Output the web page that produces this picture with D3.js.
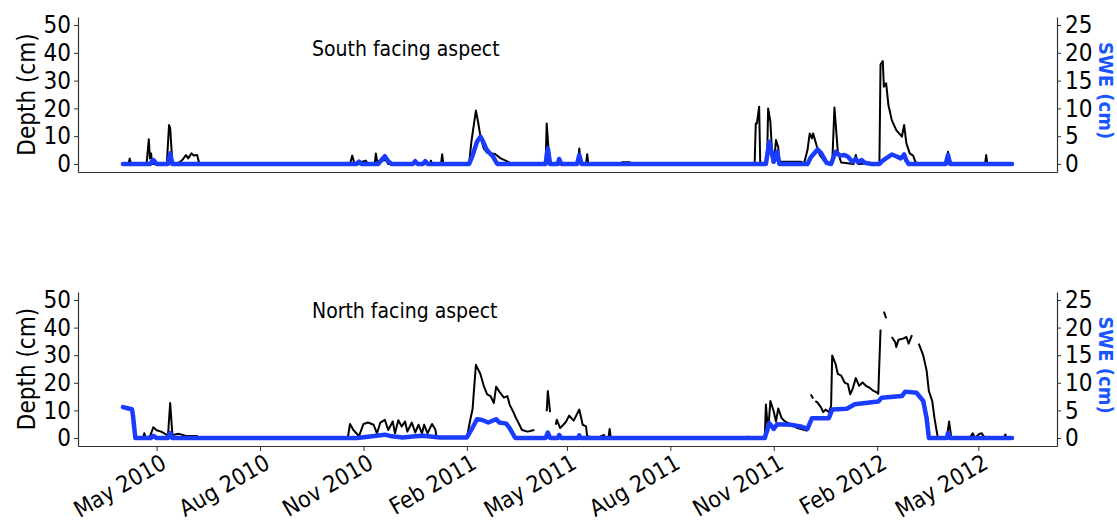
<!DOCTYPE html>
<html>
<head>
<meta charset="utf-8">
<script src="https://cdn.jsdelivr.net/npm/d3@7"></script>
<style>
  body { margin: 0; background: #fff; }
  svg { display: block; font-family: "DejaVu Sans Condensed", "DejaVu Sans", sans-serif; font-stretch: condensed; }
</style>
</head>
<body>
<svg id="chart" width="1117" height="523"></svg>
<script>
// depth (cm) and SWE (cm), null = gap in the record
var southDepth = [
  ["2010-04-01",0],["2010-04-06",0],["2010-04-07",2],["2010-04-08",0],["2010-04-22",0],["2010-04-24",8.9],
  ["2010-04-25",2],["2010-04-26",3.8],["2010-04-27",0],["2010-05-10",0],["2010-05-12",14],["2010-05-13",13],
  ["2010-05-15",0],["2010-05-21",0.5],["2010-05-24",1.5],["2010-05-27",3.2],["2010-05-29",2],["2010-06-01",3.8],
  ["2010-06-03",3],["2010-06-06",3.2],["2010-06-08",0],["2010-10-20",0],["2010-10-22",3],["2010-10-24",0],
  ["2010-11-03",1.2],["2010-11-05",0],["2010-11-11",0],["2010-11-12",3.8],["2010-11-13",1],["2010-11-21",1.4],
  ["2010-11-23",0],["2010-12-30",0],["2010-12-31",1.2],["2011-01-01",0],["2011-01-09",0],["2011-01-10",3.5],
  ["2011-01-11",0],["2011-02-03",0.3],["2011-02-05",8],["2011-02-09",19.2],["2011-02-11",15],["2011-02-13",10],
  ["2011-02-16",5.6],["2011-02-19",4],["2011-02-26",3.6],["2011-03-03",2],["2011-03-07",1.3],["2011-03-11",0.5],
  ["2011-03-14",0],["2011-04-12",0],["2011-04-13",14.6],["2011-04-15",3],["2011-04-16",0],["2011-04-22",0],
  ["2011-04-23",1],["2011-04-24",0],["2011-05-11",0],["2011-05-12",5.6],["2011-05-13",0],["2011-05-18",0],
  ["2011-05-19",3.5],["2011-05-20",0],["2011-06-18",0],["2011-06-19",0.6],["2011-06-26",0.6],["2011-06-27",0],
  ["2011-10-15",0],["2011-10-16",14.6],["2011-10-17",14.6],["2011-10-19",20.6],["2011-10-20",0],["2011-10-26",0],
  ["2011-10-27",20],["2011-10-29",15.2],["2011-10-31",0.5],["2011-11-02",4],["2011-11-03",8.6],["2011-11-05",6],
  ["2011-11-06",0.8],["2011-11-25",0.8],["2011-11-28",0.2],["2011-12-01",5],["2011-12-03",11],["2011-12-05",9.2],
  ["2011-12-06",11],["2011-12-09",6.8],["2011-12-12",3.2],["2011-12-16",1],["2011-12-19",0.2],["2011-12-23",0],
  ["2011-12-25",20.3],["2011-12-28",4.4],["2011-12-31",0.5],["2012-01-11",0],["2012-01-13",3.2],["2012-01-15",0],
  ["2012-02-03",0.3],["2012-02-04",35.8],["2012-02-06",37],["2012-02-07",27.8],["2012-02-09",29],["2012-02-11",21.2],
  ["2012-02-14",15.8],["2012-02-18",12.2],["2012-02-23",9.8],["2012-02-25",14],["2012-02-27",7.4],["2012-03-01",3.8],
  ["2012-03-04",3],["2012-03-06",0.8],["2012-03-08",0],["2012-04-03",0],["2012-04-04",4.4],["2012-04-06",0],
  ["2012-05-07",0],["2012-05-08",3.2],["2012-05-09",0],["2012-05-31",0]
];
var southSwe = [
  ["2010-04-01",0],["2010-04-25",0],["2010-04-28",0.7],["2010-05-01",0],["2010-05-11",0],["2010-05-13",1.9],
  ["2010-05-15",0],["2010-10-26",0],["2010-10-28",0.4],["2010-10-30",0],["2010-11-14",0],["2010-11-20",1.4],
  ["2010-11-23",0.5],["2010-11-26",0],["2010-12-15",0],["2010-12-17",0.5],["2010-12-19",0],["2010-12-24",0],
  ["2010-12-26",0.5],["2010-12-28",0],["2011-02-03",0],["2011-02-06",1.5],["2011-02-10",4],["2011-02-13",4.9],
  ["2011-02-15",4.2],["2011-02-18",2.8],["2011-02-20",2.2],["2011-02-24",1.4],["2011-02-26",0.7],["2011-02-28",0],
  ["2011-04-12",0],["2011-04-14",2.8],["2011-04-16",0],["2011-04-23",0],["2011-04-24",0.9],["2011-04-26",0],
  ["2011-05-10",0],["2011-05-12",1.6],["2011-05-14",0],["2011-10-25",0],["2011-10-28",4],["2011-11-01",0.4],
  ["2011-11-04",2.2],["2011-11-06",0],["2011-12-01",0],["2011-12-04",1.2],["2011-12-10",2.6],["2011-12-13",2],
  ["2011-12-18",0.2],["2011-12-22",0],["2011-12-26",2.2],["2011-12-30",1.5],["2012-01-03",1.6],["2012-01-06",1.3],
  ["2012-01-10",0.4],["2012-01-13",0.9],["2012-01-15",0.3],["2012-01-18",0.7],["2012-01-21",0.2],["2012-01-27",0],
  ["2012-02-03",0],["2012-02-06",0.6],["2012-02-14",1.7],["2012-02-19",1.3],["2012-02-22",1],["2012-02-25",1.7],
  ["2012-02-27",0.6],["2012-02-29",0],["2012-04-02",0],["2012-04-04",1.6],["2012-04-06",0],["2012-05-31",0]
];
var northDepth = [
  ["2010-04-19",0],["2010-04-20",1.7],["2010-04-21",0.3],["2010-04-25",0.5],["2010-04-28",3.9],["2010-05-01",2.8],
  ["2010-05-05",2.3],["2010-05-10",1.1],["2010-05-11",0.5],["2010-05-13",12.7],["2010-05-15",1.1],["2010-05-21",1.5],
  ["2010-05-27",0.7],["2010-06-06",0.7],["2010-06-07",0],["2010-10-18",0],["2010-10-20",5.1],["2010-10-23",2.9],
  ["2010-10-28",0.7],["2010-11-01",5.1],["2010-11-05",5.6],["2010-11-10",4.8],["2010-11-13",1.7],["2010-11-16",5.6],
  ["2010-11-20",6.6],["2010-11-23",2.9],["2010-11-27",6],["2010-11-29",1.7],["2010-12-02",6.4],["2010-12-05",4.2],
  ["2010-12-08",6],["2010-12-10",2.3],["2010-12-14",5.6],["2010-12-17",2],["2010-12-20",4.8],["2010-12-23",1.7],
  ["2010-12-25",4.8],["2010-12-28",1.7],["2011-01-01",5.1],["2011-01-04",3],["2011-01-05",0],["2011-02-01",0.3],
  ["2011-02-04",6.6],["2011-02-06",10.3],["2011-02-09",26.5],["2011-02-13",23.2],["2011-02-16",18.9],["2011-02-19",15.8],
  ["2011-02-22",15.2],["2011-02-25",12.7],["2011-02-27",18.6],["2011-03-02",16.7],["2011-03-06",14.6],["2011-03-09",15.2],
  ["2011-03-11",12.1],["2011-03-14",9.7],["2011-03-16",7.8],["2011-03-19",5.4],["2011-03-22",2.9],["2011-03-27",2.3],
  ["2011-04-02",2.9],["2011-04-07",null],["2011-04-13",9.7],["2011-04-14",17],["2011-04-16",9.4],["2011-04-18",null],
  ["2011-04-21",4.8],["2011-04-22",6.6],["2011-04-25",3.6],["2011-04-30",5.8],["2011-05-03",8.1],["2011-05-07",6.3],
  ["2011-05-12",10.3],["2011-05-15",4.8],["2011-05-18",4.2],["2011-05-19",0.5],["2011-05-21",0.5],["2011-05-28",0],
  ["2011-06-03",1.1],["2011-06-04",0],["2011-06-07",0],["2011-06-08",3.3],["2011-06-09",0],["2011-10-08",0],
  ["2011-10-09",0.5],["2011-10-10",0],["2011-10-24",0],["2011-10-25",12.1],["2011-10-27",2.3],["2011-10-29",13.4],
  ["2011-11-01",9.6],["2011-11-03",6],["2011-11-05",10.7],["2011-11-08",7.2],["2011-11-11",6],["2011-11-14",5.4],
  ["2011-11-22",3.6],["2011-12-01",2.6],["2011-12-02",null],["2011-12-04",15.8],["2011-12-06",14.3],["2011-12-07",null],
  ["2011-12-08",13.4],["2011-12-10",12.8],["2011-12-13",11.1],["2011-12-15",9.4],["2011-12-17",10.3],["2011-12-20",9.4],
  ["2011-12-22",11.5],["2011-12-23",29.9],["2011-12-26",26.8],["2011-12-28",23.2],["2011-12-31",22.6],["2012-01-03",20.1],
  ["2012-01-06",19.5],["2012-01-08",15.8],["2012-01-10",17.6],["2012-01-13",21.7],["2012-01-16",18.9],["2012-01-19",20.1],
  ["2012-01-22",18.9],["2012-01-25",18.3],["2012-01-28",17.3],["2012-02-01",16.4],["2012-02-02",16],["2012-02-04",39.3],
  ["2012-02-05",null],["2012-02-07",45.8],["2012-02-09",43.4],["2012-02-10",null],["2012-02-14",36.6],["2012-02-17",34.8],
  ["2012-02-18",33],["2012-02-20",35.6],["2012-02-24",36],["2012-02-27",36.6],["2012-02-29",34.2],["2012-03-03",37.3],
  ["2012-03-05",null],["2012-03-09",34.2],["2012-03-13",29.9],["2012-03-16",24.4],["2012-03-18",17],["2012-03-21",13.4],
  ["2012-03-23",7.2],["2012-03-26",0],["2012-04-03",0],["2012-04-05",6],["2012-04-07",0],["2012-04-23",0],
  ["2012-04-26",1.7],["2012-04-28",0],["2012-05-02",1.5],["2012-05-04",1.7],["2012-05-07",0],["2012-05-24",0],
  ["2012-05-25",1.3],["2012-05-26",0],["2012-05-31",0]
];
var northSwe = [
  ["2010-04-01",5.6],["2010-04-05",5.4],["2010-04-09",5.2],["2010-04-10",3.9],["2010-04-12",0],["2010-04-26",0],
  ["2010-04-28",0.4],["2010-05-01",0],["2010-05-11",0],["2010-05-13",0.9],["2010-05-15",0],["2010-10-26",0],
  ["2010-11-03",0.2],["2010-11-20",0.6],["2010-11-26",0.3],["2010-12-06",0.1],["2010-12-17",0.3],["2010-12-24",0.4],
  ["2011-01-08",0.1],["2011-02-01",0.1],["2011-02-05",1.5],["2011-02-10",3.4],["2011-02-14",3.3],["2011-02-20",2.8],
  ["2011-02-27",3.4],["2011-03-02",2.8],["2011-03-08",2.6],["2011-03-11",1.8],["2011-03-16",0],["2011-04-12",0],
  ["2011-04-14",1],["2011-04-16",0],["2011-04-23",0],["2011-04-24",0.55],["2011-04-26",0],["2011-05-11",0],
  ["2011-05-12",0.5],["2011-05-13",0],["2011-10-24",0],["2011-10-28",2.7],["2011-11-01",1.65],["2011-11-04",2.5],
  ["2011-11-16",2.4],["2011-11-25",2.1],["2011-12-01",1.65],["2011-12-05",3.6],["2011-12-20",3.6],["2011-12-23",5.15],
  ["2012-01-05",5.3],["2012-01-12",6.1],["2012-02-02",6.6],["2012-02-05",7.3],["2012-02-23",7.6],["2012-02-26",8.4],
  ["2012-03-07",8.2],["2012-03-13",6.7],["2012-03-16",3.6],["2012-03-18",0],["2012-04-03",0],["2012-04-04",0.9],
  ["2012-04-06",0],["2012-05-31",0]
];
var dateTicks = ["2010-05-01","2010-08-01","2010-11-01","2011-02-01","2011-05-01","2011-08-01","2011-11-01","2012-02-01","2012-05-01"];
var depthTicks = [0, 10, 20, 30, 40, 50];
var sweTicks = [0, 5, 10, 15, 20, 25];
var panelTitles = ["South facing aspect", "North facing aspect"];

var parse = d3.timeParse("%Y-%m-%d");
var fmt = d3.timeFormat("%b %Y");
var blue = "#1a3cff";
var font = "'DejaVu Sans Condensed', 'DejaVu Sans', sans-serif";

var svg = d3.select("#chart");
var x = d3.scaleTime()
  .domain([new Date(2010, 1, 20), new Date(2012, 6, 10)])
  .range([78, 1057]);

var panels = [
  {top: 17, bottom: 172, depth: southDepth, swe: southSwe, title: panelTitles[0], titleAt: 39, xlabels: false},
  {top: 292, bottom: 446, depth: northDepth, swe: northSwe, title: panelTitles[1], titleAt: 43.5, xlabels: true}
];

panels.forEach(function(p) {
  var yD = d3.scaleLinear().domain([-2.9, 52.9]).range([p.bottom, p.top]);
  var yS = d3.scaleLinear().domain([-1.45, 26.45]).range([p.bottom, p.top]);
  var g = svg.append("g");

  var lineD = d3.line()
    .defined(function(d) { return d[1] !== null; })
    .x(function(d) { return x(parse(d[0])); })
    .y(function(d) { return yD(d[1]); });
  var lineS = d3.line()
    .x(function(d) { return x(parse(d[0])); })
    .y(function(d) { return yS(d[1]); });

  g.append("path").datum(p.depth)
    .attr("d", lineD)
    .attr("fill", "none")
    .attr("stroke", "#000")
    .attr("stroke-width", 2)
    .attr("stroke-linejoin", "round");
  g.append("path").datum(p.swe)
    .attr("d", lineS)
    .attr("fill", "none")
    .attr("stroke", blue)
    .attr("stroke-width", 4.5)
    .attr("stroke-linejoin", "round")
    .attr("stroke-linecap", "round");

  // axes
  var left = g.append("g").attr("transform", "translate(78,0)")
    .call(d3.axisLeft(yD).tickValues(depthTicks).tickSizeInner(4).tickSizeOuter(0).tickPadding(3));
  var right = g.append("g").attr("transform", "translate(1057,0)")
    .call(d3.axisRight(yS).tickValues(sweTicks).tickSizeInner(4).tickSizeOuter(0).tickPadding(4));
  var bottom = g.append("g").attr("transform", "translate(0," + p.bottom + ")")
    .call(d3.axisBottom(x).tickValues(dateTicks.map(parse)).tickSizeInner(p.xlabels ? 5 : 0).tickSizeOuter(0).tickFormat(""));

  [left, right, bottom].forEach(function(a) {
    a.select(".domain").attr("stroke", "#333").attr("stroke-width", 1.2);
    a.selectAll(".tick line").attr("stroke", "#333");
    a.selectAll("text").attr("font-size", 24).attr("font-family", font).attr("fill", "#000");
  });
  if (!p.xlabels) bottom.selectAll(".tick").remove();

  if (p.xlabels) {
    g.selectAll(".xlab").data(dateTicks).enter().append("text")
      .attr("transform", function(d) { return "translate(" + (x(parse(d)) + 3) + "," + (p.bottom + 7) + ") rotate(-30)"; })
      .attr("text-anchor", "end")
      .attr("dy", "0.72em")
      .attr("font-size", 23)
      .text(function(d) { return fmt(parse(d)); });
  }

  g.append("text")
    .attr("transform", "translate(27," + ((p.top + p.bottom) / 2) + ") rotate(-90)")
    .attr("text-anchor", "middle")
    .attr("dy", "0.35em")
    .attr("font-size", 24)
    .text("Depth (cm)");

  g.append("text")
    .attr("transform", "translate(1106," + ((p.top + p.bottom) / 2 - 4) + ") rotate(90)")
    .attr("text-anchor", "middle")
    .attr("dy", "0.35em")
    .attr("font-size", 20)
    .attr("font-weight", "bold")
    .attr("fill", "#1a56ff")
    .text("SWE (cm)");

  g.append("text")
    .attr("x", 312)
    .attr("y", yD(p.titleAt))
    .attr("font-size", 21)
    .text(p.title);
});
</script>
</body>
</html>
